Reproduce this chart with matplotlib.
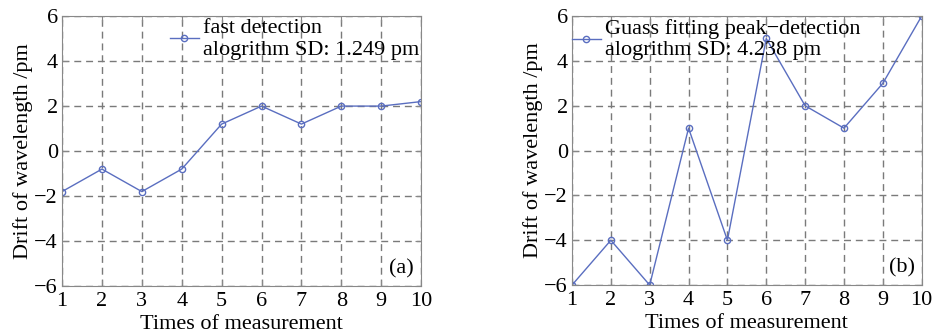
import matplotlib
matplotlib.use("Agg")
import matplotlib.pyplot as plt

times = [1, 2, 3, 4, 5, 6, 7, 8, 9, 10]
fast_drift = [-1.8, -0.8, -1.8, -0.8, 1.2, 2.0, 1.2, 2.0, 2.0, 2.2]
gauss_drift = [-6, -4, -6, 1, -4, 5, 2, 1, 3, 6]
y_ticks = [-6, -4, -2, 0, 2, 4, 6]
fast_label = "fast detection\nalogrithm SD: 1.249 pm"
gauss_label = "Guass fitting peak\u2212detection\nalogrithm SD: 4.238 pm"

plt.rcParams['font.family'] = ['Liberation Serif', 'DejaVu Serif']
plt.rcParams['axes.unicode_minus'] = True

line_color = '#5a6ec0'
grid_color = '#7a7a7a'
fs = 16


def draw_panel(ax, values, label, tag, leg_anchor):
    ax.plot(times, values, color=line_color, lw=1.0, marker='o', ms=4.5,
            mfc='none', mec=line_color, mew=1.0, label=label)
    ax.set_xlim(1, 10)
    ax.set_ylim(-6, 6)
    ax.set_xticks(times)
    ax.set_yticks(y_ticks)
    ax.grid(True, color=grid_color, ls=(0, (5, 3.5)), lw=1.0)
    ax.tick_params(direction='in', top=True, right=True, length=4,
                   color='#888888', labelsize=fs)
    ax.tick_params(axis='x', pad=4)
    ax.tick_params(axis='y', pad=3)
    for s in ax.spines.values():
        s.set_color('#888888')
    ax.set_xlabel("Times of measurement", fontsize=fs, labelpad=3)
    ax.set_ylabel("Drift of wavelength /pm", fontsize=fs, labelpad=1)
    ax.text(0.98, 0.03, tag, transform=ax.transAxes, ha='right', va='bottom',
            fontsize=fs)
    leg = ax.legend(loc='upper left', bbox_to_anchor=leg_anchor, frameon=False,
                    fontsize=fs, handlelength=1.3, handletextpad=0.2,
                    borderaxespad=0, borderpad=0, labelspacing=0.05)
    return leg


fig = plt.figure(figsize=(9.4, 3.35), dpi=100)
ax1 = fig.add_axes([0.066, 0.146, 0.382, 0.806])
ax2 = fig.add_axes([0.6085, 0.149, 0.372, 0.803])

draw_panel(ax1, fast_drift, fast_label, "(a)", (0.30, 0.99))
draw_panel(ax2, gauss_drift, gauss_label, "(b)", (0.0, 0.99))

fig.savefig("out.png", dpi=100)
